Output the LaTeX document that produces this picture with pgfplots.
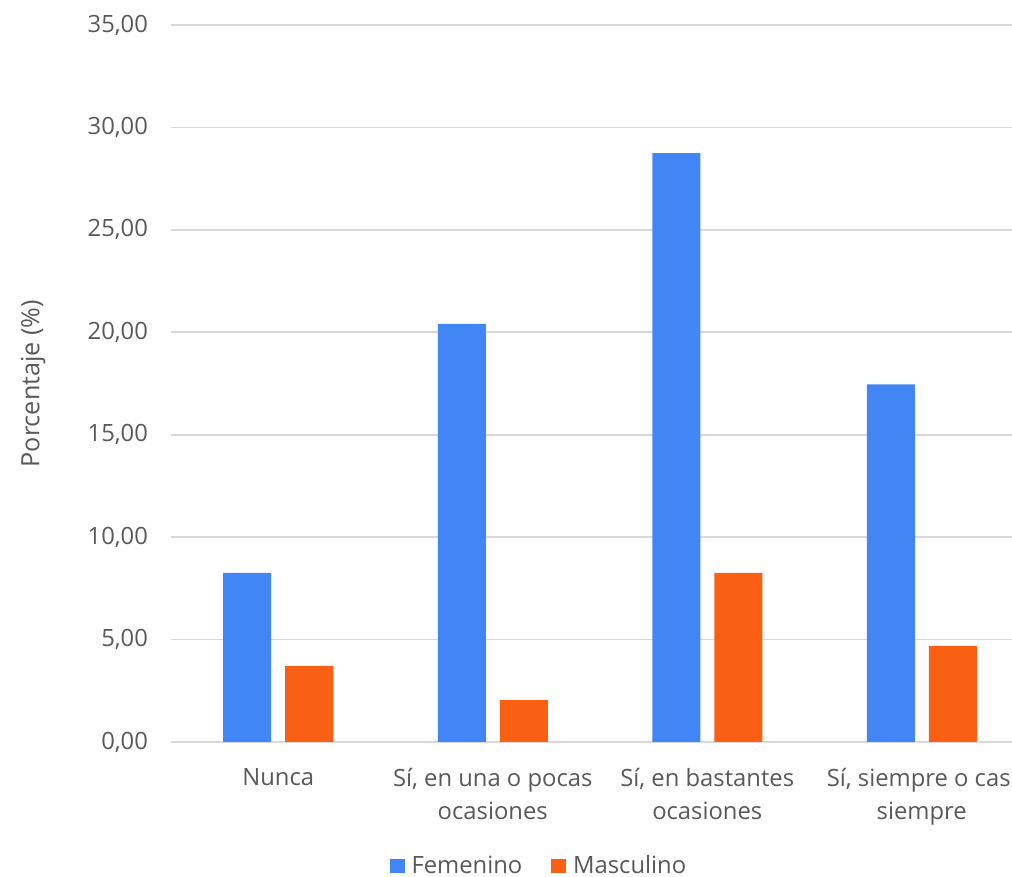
\documentclass[border=0pt]{standalone}
\usepackage{pgfplots}
\pgfplotsset{compat=1.18}
\usepackage{fontspec}
\setmainfont{Open Sans}
\definecolor{txt}{HTML}{595959}
\definecolor{grid}{HTML}{D9D9D9}
\definecolor{fem}{HTML}{4285F4}
\definecolor{mas}{HTML}{FA6014}
\begin{document}
\begin{tikzpicture}
\useasboundingbox (-85.5pt,-67.5pt) rectangle (420.5pt,371pt);
\begin{axis}[
  at={(0,0)}, anchor=south west,
  scale only axis,
  width=429pt, height=358.5pt,
  xmin=-0.5, xmax=3.5,
  ymin=0, ymax=35,
  ytick={0,5,...,35},
  xtick={0,1,2,3},
  xticklabels={Nunca,{Sí, en una o pocas\\ocasiones},{Sí, en bastantes\\ocasiones},{Sí, siempre o casi\\siempre}},
  ybar=7pt, bar width=24pt,
  axis line style={draw=none},
  major tick length=0pt,
  ymajorgrids,
  major grid style={draw=grid, line width=0.8pt},
  font=\fontsize{11.9pt}{14pt}\selectfont,
  tick label style={text=txt},
  yticklabel style={xshift=-8pt, /pgf/number format/fixed, /pgf/number format/fixed zerofill, /pgf/number format/precision=2, /pgf/number format/use comma, /pgf/number format/1000 sep={}, /pgf/number format/assume math mode=true},
  xticklabel style={align=center, yshift=-9.5pt, font=\fontsize{11.9pt}{16.8pt}\selectfont},
  every axis y label/.style={at={(axis description cs:-0.1608,0.5)}, rotate=90, anchor=center, text=txt, font=\fontsize{12.6pt}{15pt}\selectfont},
  ylabel={Porcentaje (\%)},
  legend style={at={(0.4318,-0.173)}, anchor=center, draw=none, legend columns=2, text=txt,
    /tikz/every even column/.append style={column sep=11pt},
    nodes={inner xsep=3.5pt}},
  legend image code/.code={\fill[#1] (0pt,-3.6pt) rectangle (7.4pt,3.6pt);},
]
\addplot[fill=fem, draw=none] coordinates {(0,8.26) (1,20.41) (2,28.75) (3,17.46)};
\addplot[fill=mas, draw=none] coordinates {(0,3.72) (1,2.05) (2,8.26) (3,4.69)};
\legend{Femenino,Masculino}
\end{axis}
\end{tikzpicture}
\end{document}
